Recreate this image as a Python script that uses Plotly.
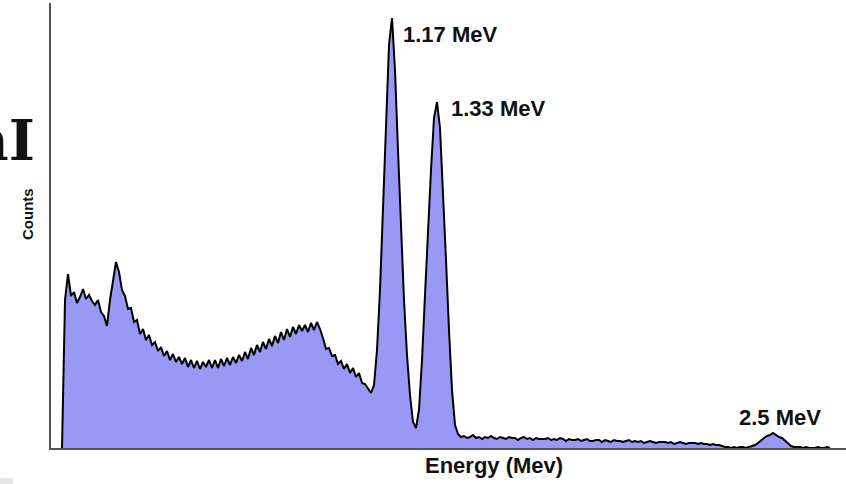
import plotly.graph_objects as go

# Gamma spectrum (Co-60, NaI detector) -- counts per channel
counts = [
    0,
    148, 174, 152, 156, 145, 151, 159, 149, 153, 147,
    143, 148, 136, 132, 122, 148, 166, 186, 176, 158,
    152, 139, 140, 126, 128, 114, 119, 108, 113, 103,
    106, 97, 101, 92, 97, 88, 94, 86, 91, 84,
    90, 81, 88, 80, 87, 79, 86, 81, 88, 80,
    88, 80, 89, 82, 90, 83, 91, 85, 93, 87,
    96, 89, 100, 93, 103, 96, 106, 99, 109, 102,
    112, 105, 116, 108, 119, 111, 121, 114, 123, 117,
    123, 116, 125, 118, 126, 119, 110, 99, 100, 92,
    93, 84, 87, 79, 84, 75, 80, 71, 75, 65,
    64, 60, 55, 63, 98, 158, 238, 328, 403, 430,
    378, 298, 218, 148, 93, 53, 26, 20, 38, 88,
    153, 218, 278, 330, 346, 320, 258, 188, 118, 58,
    23, 14, 11, 12, 10, 11, 13, 10, 11, 9,
    11, 10, 12, 10, 9, 11, 10, 9, 11, 10,
    10, 8, 10, 11, 9, 10, 8, 10, 9, 9,
    9, 10, 8, 9, 8, 10, 9, 7, 9, 8,
    8, 9, 7, 8, 9, 7, 7, 8, 8, 6,
    8, 7, 6, 8, 7, 7, 6, 7, 8, 6,
    7, 6, 7, 5, 6, 7, 6, 5, 6, 6,
    6, 5, 6, 4, 5, 6, 5, 4, 5, 5,
    5, 4, 5, 4, 4, 3, 4, 3, 3, 2,
    1, 1, 0, 1, 0, 1, 1, 0, 1, 2,
    3, 5, 8, 10, 12, 13, 15, 13, 11, 10,
    7, 4, 2, 1, 1, 1, 0, 1, 0, 0,
    0, 1, 0, 0, 1, 0,
]
channels = list(range(len(counts)))

peak_labels = ["1.17 MeV", "1.33 MeV", "2.5 MeV"]
x_title = "Energy (Mev)"
y_title = "Counts"
side_title = "nI"

W, H = 846, 484
L, R, T, B = 51, 0, 3, 36


def px(x):
    return (x - L) / (W - L - R)


def py(y):
    return (H - B - y) / (H - T - B)


fig = go.Figure()
fig.add_trace(go.Scatter(
    x=channels, y=counts, mode="lines", line=dict(color="black", width=2, shape="linear"),
    fill="tozeroy", fillcolor="rgb(153,153,245)", hoverinfo="skip", showlegend=False,
))

lab_font = dict(family="Liberation Sans, Arial, sans-serif", size=22, color="#111")
ann = [
    dict(text="<b>%s</b>" % peak_labels[0], x=px(401), y=py(34), xanchor="left", yanchor="middle"),
    dict(text="<b>%s</b>" % peak_labels[1], x=px(449), y=py(108), xanchor="left", yanchor="middle"),
    dict(text="<b>%s</b>" % peak_labels[2], x=px(780), y=py(417), xanchor="center", yanchor="middle"),
    dict(text="<b>%s</b>" % x_title, x=px(494), y=py(466), xanchor="center", yanchor="middle"),
]
for a in ann:
    fig.add_annotation(xref="paper", yref="paper", showarrow=False, font=lab_font, **a)

fig.add_annotation(xref="paper", yref="paper", showarrow=False, text="<b>%s</b>" % y_title,
                   x=px(27), y=py(214), xanchor="center", yanchor="middle", textangle=-90,
                   font=dict(family="Liberation Sans, Arial, sans-serif", size=15, color="#111"))
fig.add_annotation(xref="paper", yref="paper", showarrow=False, text="<b>%s</b>" % side_title,
                   x=px(37), y=py(140), xanchor="right", yanchor="middle",
                   font=dict(family="DejaVu Serif, serif", size=56, color="#111"))

fig.add_shape(type="rect", xref="paper", yref="paper", x0=px(0), x1=px(13), y0=py(484), y1=py(478),
              line=dict(width=0), fillcolor="#e6e6e6")

fig.update_xaxes(range=[-11 / 3, 784 / 3], showline=True, linecolor="#555", linewidth=2,
                 showgrid=False, zeroline=False, showticklabels=False, ticks="")
fig.update_yaxes(range=[0, 445], showline=True, linecolor="#555", linewidth=2,
                 showgrid=False, zeroline=False, showticklabels=False, ticks="")
fig.update_layout(width=W, height=H, margin=dict(l=L, r=R, t=T, b=B),
                  plot_bgcolor="white", paper_bgcolor="white")
fig.write_html("out.html")
